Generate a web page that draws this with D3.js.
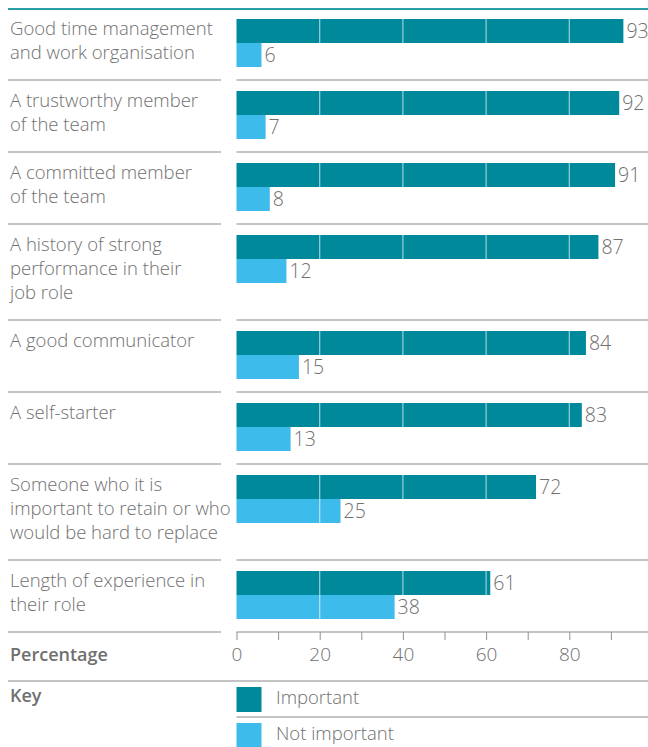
<!DOCTYPE html>
<html>
<head>
<meta charset="utf-8">
<script src="https://cdn.jsdelivr.net/npm/d3@7"></script>
<style>
  body { margin: 0; background: #fff; }
  text { font-family: "Open Sans", sans-serif; }
</style>
</head>
<body>
<div id="chart"></div>
<script>
// data
const categories = [
  ["Good time management", "and work organisation"],
  ["A trustworthy member", "of the team"],
  ["A committed member", "of the team"],
  ["A history of strong", "performance in their", "job role"],
  ["A good communicator"],
  ["A self-starter"],
  ["Someone who it is", "important to retain or who", "would be hard to replace"],
  ["Length of experience in", "their role"]
];
const important    = [93, 92, 91, 87, 84, 83, 72, 61];
const notImportant = [6, 7, 8, 12, 15, 13, 25, 38];
const tickLabels   = [0, 20, 40, 60, 80];
const minorTicks   = [0, 10, 20, 30, 40, 50, 60, 70, 80, 90];
const keys = ["Important", "Not important"];

const W = 648, H = 747;
const colImp = "#00899a", colNot = "#3dbbea";
const grey = "#707070", lineGrey = "#b0b0b0";
const left = 8, plotX = 236.5, labelRight = 221;
const barH = 24;

const svg = d3.select("#chart").append("svg")
  .attr("width", W).attr("height", H);

const x = d3.scaleLinear().domain([0, 100]).range([plotX, plotX + 416]);

// row heights: 72 for up to two lines, 96 for three
let rows = [];
let yTop = 8;
categories.forEach((c, i) => {
  const h = c.length > 2 ? 96 : 72;
  rows.push({ label: c, imp: important[i], not: notImportant[i], top: yTop, h: h });
  yTop += h;
});
const axisY = yTop;

// top rule
svg.append("line").attr("x1", left).attr("x2", W).attr("y1", 9).attr("y2", 9)
  .attr("stroke", "#2b9ea9").attr("stroke-width", 2);

const g = svg.append("g");
rows.forEach((r, i) => {
  const rg = g.append("g");
  // label
  r.label.forEach((t, j) => {
    rg.append("text").attr("x", 10).attr("y", r.top + 27 + j * 24)
      .attr("font-size", 18.5).attr("font-weight", 300).attr("fill", grey).text(t);
  });
  const yi = r.top + 11, yn = yi + barH;
  rg.append("rect").attr("x", x(0)).attr("y", yi).attr("width", x(r.imp) - x(0)).attr("height", barH)
    .attr("fill", colImp);
  rg.append("rect").attr("x", x(0)).attr("y", yn).attr("width", x(r.not) - x(0)).attr("height", barH)
    .attr("fill", colNot);
  // light grid lines through the bars
  [[r.imp, yi], [r.not, yn]].forEach(([v, yy]) => {
    tickLabels.filter(t => t > 0 && x(t) < x(v) - 1).forEach(t => {
      rg.append("line").attr("x1", x(t)).attr("x2", x(t)).attr("y1", yy).attr("y2", yy + barH)
        .attr("stroke", "#fff").attr("stroke-opacity", 0.6).attr("stroke-width", 1.2);
    });
  });
  rg.append("text").attr("x", x(r.imp) + 3).attr("y", yi + barH / 2 + 7)
    .attr("font-size", 19.5).attr("font-weight", 300).attr("fill", grey).text(r.imp);
  rg.append("text").attr("x", x(r.not) + 3).attr("y", yn + barH / 2 + 7)
    .attr("font-size", 19.5).attr("font-weight", 300).attr("fill", grey).text(r.not);
  // row separator (not under last row, that is the axis)
  if (i < rows.length - 1) {
    const sy = r.top + r.h;
    rg.append("line").attr("x1", left).attr("x2", labelRight).attr("y1", sy).attr("y2", sy)
      .attr("stroke", lineGrey).attr("stroke-width", 1.5);
    rg.append("line").attr("x1", plotX).attr("x2", W).attr("y1", sy).attr("y2", sy)
      .attr("stroke", lineGrey).attr("stroke-width", 1.5);
  }
});

// axis
svg.append("line").attr("x1", left).attr("x2", labelRight).attr("y1", axisY).attr("y2", axisY)
  .attr("stroke", lineGrey).attr("stroke-width", 1.5);
const axis = svg.append("g").attr("transform", `translate(0,${axisY})`)
  .call(d3.axisBottom(x).tickValues(minorTicks).tickSize(8).tickFormat(d => tickLabels.includes(d) ? d : ""));
axis.select(".domain").attr("d", `M${plotX},0H${W}`).attr("stroke", lineGrey).attr("stroke-width", 1.5);
axis.selectAll(".tick line").attr("stroke", "#909090");
axis.selectAll(".tick text").attr("font-size", 19).attr("font-weight", 300).attr("fill", grey)
  .attr("font-family", "Open Sans, sans-serif").attr("dy", "0.95em");

svg.append("text").attr("x", 10).attr("y", axisY + 29).attr("font-size", 18).attr("font-weight", 600)
  .attr("fill", grey).text("Percentage");

// key
const keyY = axisY + 49;
svg.append("line").attr("x1", left).attr("x2", W).attr("y1", keyY).attr("y2", keyY)
  .attr("stroke", lineGrey).attr("stroke-width", 1.5);
svg.append("text").attr("x", 10).attr("y", keyY + 21).attr("font-size", 18).attr("font-weight", 600)
  .attr("fill", grey).text("Key");
const keyColor = d3.scaleOrdinal().domain(keys).range([colImp, colNot]);
keys.forEach((k, i) => {
  const ky = keyY + 6 + i * 36;
  svg.append("rect").attr("x", plotX).attr("y", ky).attr("width", 25).attr("height", 25)
    .attr("fill", keyColor(k));
  svg.append("text").attr("x", 276).attr("y", ky + 17).attr("font-size", 18.5).attr("font-weight", 300)
    .attr("fill", grey).text(k);
  if (i === 0) {
    svg.append("line").attr("x1", plotX).attr("x2", W).attr("y1", ky + 30).attr("y2", ky + 30)
      .attr("stroke", lineGrey).attr("stroke-width", 1.5);
  }
});
</script>
</body>
</html>
